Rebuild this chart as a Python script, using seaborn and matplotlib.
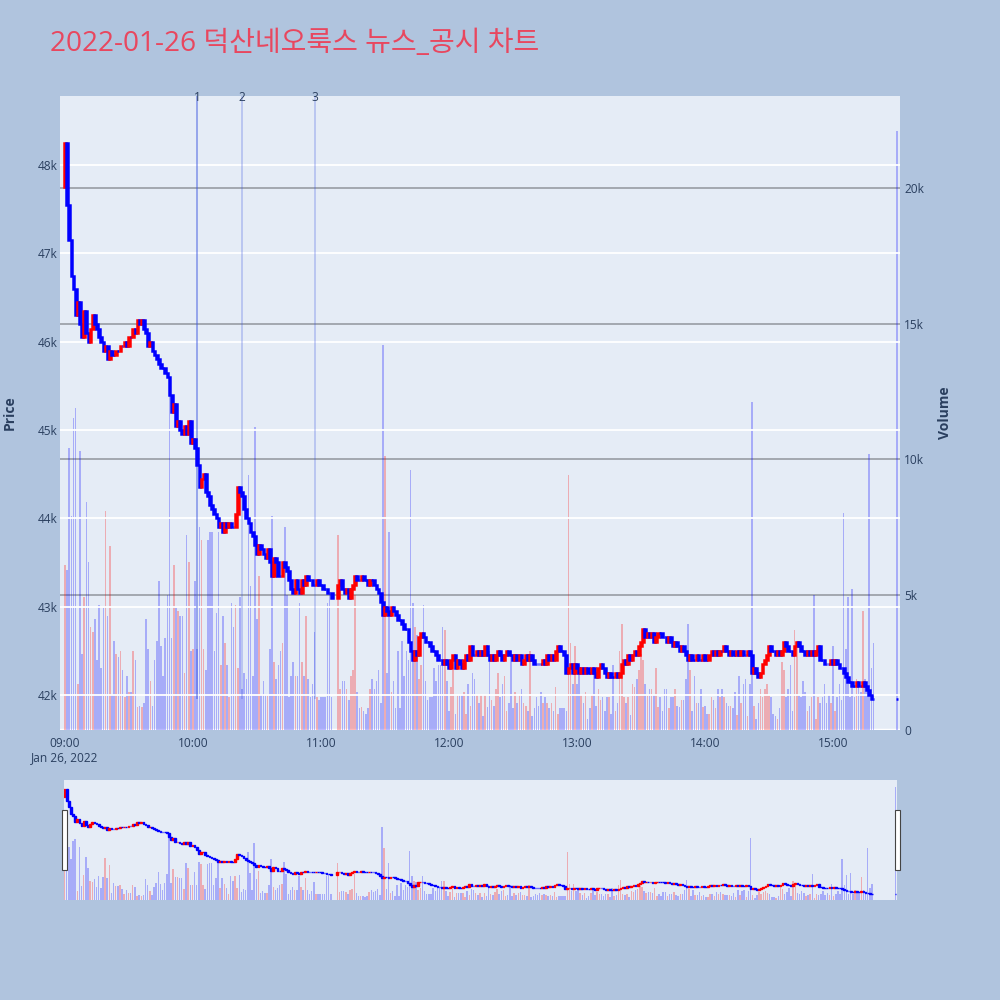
import numpy as np
import pandas as pd
import matplotlib
matplotlib.use("Agg")
import matplotlib.pyplot as plt
import matplotlib.patches as mpatches
import matplotlib.transforms as mtransforms
from matplotlib.colors import to_rgba
import seaborn as sns

# 1 - data (1-minute candles, 2022-01-26, 09:00 ~ 15:19, 11:06~11:07 halted)
first_open = 47750

close_prices = [
    48250, 47550, 47150, 46750, 46600, 46300, 46450, 46200, 46050, 46350,
    46100, 46000, 46150, 46300, 46200, 46150, 46050, 46000, 45900, 45950,
    45800, 45900, 45850, 45850, 45900, 45900, 45950, 45950, 46000, 45950,
    46050, 46050, 46150, 46100, 46250, 46200, 46250, 46150, 46100, 45950,
    46000, 45900, 45850, 45800, 45750, 45700, 45700, 45650, 45600, 45400,
    45200, 45300, 45050, 45100, 45000, 44950, 45050, 44950, 45100, 44850,
    44900, 44800, 44600, 44350, 44450, 44500, 44300, 44250, 44150, 44100,
    44050, 44000, 43900, 43950, 43850, 43950, 43900, 43950, 43900, 43900,
    44050, 44350, 44300, 44250, 44100, 44000, 43950, 43850, 43800, 43700,
    43600, 43700, 43650, 43600, 43550, 43650, 43500, 43350, 43550, 43500,
    43350, 43350, 43500, 43450, 43400, 43300, 43200, 43150, 43300, 43200,
    43150, 43300, 43250, 43350, 43300, 43300, 43250, 43250, 43300, 43250,
    43250, 43200, 43200, 43150, 43150, 43100, None, None, 43250, 43300,
    43200, 43150, 43200, 43100, 43200, 43250, 43350, 43300, 43300, 43350,
    43300, 43300, 43250, 43300, 43300, 43250, 43200, 43150, 43050, 42900,
    43000, 42950, 42900, 43000, 42950, 42900, 42850, 42850, 42800, 42750,
    42750, 42600, 42500, 42400, 42500, 42450, 42650, 42700, 42650, 42600,
    42600, 42550, 42500, 42500, 42450, 42400, 42400, 42350, 42400, 42350,
    42300, 42400, 42450, 42300, 42400, 42350, 42300, 42400, 42450, 42400,
    42550, 42450, 42450, 42500, 42450, 42500, 42450, 42550, 42450, 42400,
    42450, 42400, 42450, 42500, 42450, 42400, 42450, 42500, 42450, 42450,
    42400, 42450, 42400, 42450, 42350, 42400, 42450, 42400, 42450, 42400,
    42350, 42350, 42350, 42350, 42400, 42350, 42450, 42400, 42450, 42400,
    42500, 42550, 42500, 42500, 42450, 42250, 42300, 42350, 42250, 42350,
    42300, 42250, 42300, 42250, 42300, 42250, 42250, 42300, 42250, 42200,
    42300, 42350, 42300, 42250, 42200, 42250, 42200, 42200, 42250, 42200,
    42250, 42350, 42400, 42350, 42450, 42400, 42450, 42500, 42450, 42550,
    42600, 42750, 42650, 42700, 42650, 42700, 42600, 42650, 42700, 42700,
    42650, 42650, 42600, 42650, 42600, 42550, 42600, 42550, 42500, 42550,
    42500, 42450, 42400, 42450, 42400, 42400, 42450, 42400, 42400, 42450,
    42400, 42400, 42450, 42500, 42450, 42500, 42450, 42500, 42500, 42550,
    42500, 42450, 42500, 42450, 42450, 42500, 42450, 42500, 42450, 42450,
    42500, 42450, 42250, 42300, 42250, 42200, 42250, 42350, 42400, 42450,
    42550, 42500, 42500, 42450, 42500, 42450, 42500, 42600, 42550, 42500,
    42500, 42450, 42550, 42600, 42550, 42500, 42500, 42450, 42500, 42450,
    42500, 42450, 42500, 42550, 42400, 42400, 42350, 42350, 42350, 42400,
    42350, 42400, 42350, 42300, 42300, 42250, 42200, 42150, 42150, 42100,
    42100, 42150, 42100, 42100, 42150, 42100, 42050, 42000, 41950, 41950,
]

volumes = [
    6100, 5900, 10400, 7900, 11500, 11900, 1700, 10300, 2800, 4900,
    8400, 6200, 3800, 3600, 4100, 2600, 4600, 2300, 4500, 8100,
    4200, 6800, 1300, 3300, 2800, 2700, 2900, 2200, 1200, 2000,
    1400, 1400, 2900, 2600, 850, 900, 850, 1000, 4100, 3000,
    1800, 900, 2600, 3300, 5500, 3100, 2000, 3400, 5000, 12400,
    3400, 6100, 4500, 4400, 4200, 4200, 2100, 7200, 6200, 2900,
    3000, 5500, 3000, 7500, 7000, 3000, 2200, 7000, 7300, 7300,
    2900, 4300, 7300, 2400, 4200, 3200, 2400, 1200, 4700, 3800,
    4600, 2300, 4900, 1500, 2100, 1900, 9400, 5300, 2000, 11200,
    4100, 5700, 1300, 1800, 1300, 1300, 3000, 7900, 2500, 1900,
    2400, 2900, 3200, 7500, 5000, 1200, 2000, 2500, 2000, 2000,
    4700, 2500, 2000, 4200, 1900, 1200, 1700, 3600, 1200, 1100,
    1200, 1200, 1200, 4700, 5100, 1200, None, None, 7200, 1500,
    1800, 1800, 1500, 1100, 2000, 2200, 5000, 1400, 800, 850,
    700, 600, 800, 1500, 1900, 1500, 1800, 2200, 1000, 14200,
    10100, 2100, 7300, 1400, 1800, 800, 2900, 800, 3300, 2000,
    2900, 2600, 9600, 4700, 3800, 3500, 1900, 2400, 4600, 1800,
    1100, 1200, 1200, 2300, 1800, 2400, 2400, 3800, 3700, 1800,
    700, 1600, 2200, 600, 1300, 1300, 1300, 1400, 600, 1700,
    900, 2100, 1900, 1300, 1000, 1300, 500, 1300, 850, 2900,
    1100, 900, 1500, 2100, 1200, 1700, 2000, 700, 1000, 2900,
    800, 1400, 1000, 1300, 1500, 1000, 900, 700, 2900, 500,
    800, 1200, 900, 1400, 1000, 1200, 1000, 800, 1000, 700,
    1600, 600, 800, 800, 800, 700, 9400, 3200, 1700, 3100,
    1700, 2400, 1300, 1000, 1400, 400, 800, 1300, 2300, 900,
    1500, 1100, 1200, 700, 1200, 1200, 600, 2400, 700, 1000,
    2900, 3900, 1200, 1000, 1200, 550, 1700, 1600, 1900, 2200,
    2800, 2600, 1700, 1300, 1500, 1500, 1300, 2300, 850, 1200,
    700, 1500, 1500, 800, 1200, 1200, 1500, 900, 850, 1100,
    1100, 1900, 3900, 2200, 700, 2000, 1000, 1000, 1500, 850,
    900, 600, 600, 1200, 1100, 800, 1500, 1200, 1500, 1200,
    1000, 900, 900, 800, 1400, 550, 2000, 1000, 1700, 1900,
    500, 1700, 12100, 900, 400, 1000, 1500, 1200, 1500, 1700,
    1300, 1200, 600, 500, 400, 800, 2500, 2200, 1200, 1500,
    2400, 700, 3700, 3300, 1300, 1200, 1800, 1400, 700, 900,
    1200, 5000, 400, 1200, 1000, 1200, 1700, 1000, 1300, 1000,
    3100, 700, 1200, 1700, 1100, 8000, 3000, 4900, 1200, 5200,
    1200, 1900, 1600, 1400, 4400, 1900, 1500, 10200, 2300, 3200,
]

# 15:30 closing auction
auction_time = "15:30"
auction_price = 41950
auction_volume = 22100

# news / disclosure markers
news_times = ["10:02", "10:23", "10:57"]
news_labels = ["1", "2", "3"]

hour_ticks = ["09:00", "10:00", "11:00", "12:00", "13:00", "14:00", "15:00"]
price_ticks = [42000, 43000, 44000, 45000, 46000, 47000, 48000]
price_tick_labels = ["42k", "43k", "44k", "45k", "46k", "47k", "48k"]
volume_ticks = [0, 5000, 10000, 15000, 20000]
volume_tick_labels = ["0", "5k", "10k", "15k", "20k"]

title = "2022-01-26 덕산네오룩스 뉴스_공시 차트"


def to_minute(hhmm):
    h, m = map(int, hhmm.split(":"))
    return (h - 9) * 60 + m


df = pd.DataFrame({"minute": np.arange(len(close_prices)),
                   "close": pd.to_numeric(pd.Series(close_prices), errors="coerce"),
                   "volume": pd.to_numeric(pd.Series(volumes), errors="coerce")})
df = pd.concat([df, pd.DataFrame({"minute": [to_minute(auction_time)],
                                  "close": [auction_price],
                                  "volume": [auction_volume]})], ignore_index=True)
df = df.dropna().reset_index(drop=True)
df["open"] = df["close"].shift(1).fillna(first_open)
df["up"] = df["close"] > df["open"]

# 2 - style
sns.set_theme(style="white")
plt.rcParams["font.family"] = ["Open Sans", "Noto Sans CJK KR", "DejaVu Sans"]
txt_color = "#2a3f5f"
bg_color = "#b0c4de"
plot_bg = "#e5ecf6"
up_color = "#ff0000"
down_color = "#0000ff"

PRICE_LIM = (41602, 48784)
VOL_LIM = (0, 23400)
X_LIM = (-2.34, 391.4)

fig = plt.figure(figsize=(10, 10), dpi=100, facecolor=bg_color)


def draw_volume(axv, d, width, alpha):
    cols = [to_rgba(up_color if u else down_color, alpha) for u in d["up"]]
    axv.bar(d["minute"], d["volume"], width=width, color=cols, linewidth=0, zorder=2)


def draw_candles(axp, d, width, lw):
    bottom = np.minimum(d["open"], d["close"])
    height = np.abs(d["close"] - d["open"])
    cols = [up_color if u else down_color for u in d["up"]]
    axp.bar(d["minute"], height, bottom=bottom, width=width, color=cols,
            edgecolor=cols, linewidth=lw, zorder=3)


# 3 - main chart (price + volume)
ax = fig.add_axes([0.06, 0.27, 0.84, 0.634])
axv = ax.twinx()
axv.set_zorder(1)
ax.set_zorder(2)
axv.patch.set_visible(True)
axv.set_facecolor(plot_bg)
ax.patch.set_visible(False)

draw_volume(axv, df, 0.75, 0.27)
axv.set_ylim(*VOL_LIM)
axv.set_yticks(volume_ticks)
axv.set_yticklabels(volume_tick_labels)
axv.grid(axis="y", color="#a3a8b0", linewidth=1.4)
axv.axhline(0, color="white", linewidth=2.5, zorder=1)
axv.set_axisbelow(True)
axv.set_ylabel("Volume", fontsize=10, fontweight="bold", color=txt_color)
axv.yaxis.set_label_coords(1.0452, 0.5)

for a in (ax, axv):
    for s in a.spines.values():
        s.set_visible(False)
    a.tick_params(length=0, labelsize=8.6, colors=txt_color)
axv.tick_params(axis="y", pad=3)

ax.set_ylim(*PRICE_LIM)
ax.set_xlim(*X_LIM)
ax.set_yticks(price_ticks)
ax.set_yticklabels(price_tick_labels)
ax.tick_params(axis="y", pad=2)
ax.tick_params(axis="x", pad=5)
ax.grid(axis="y", color="white", linewidth=1.3, zorder=0)
ax.set_ylabel("Price", fontsize=10, fontweight="bold", color=txt_color)
ax.yaxis.set_label_coords(-0.0512, 0.5)
ax.set_xticks([to_minute(t) for t in hour_ticks])
ax.set_xticklabels(hour_ticks)
ax.text(to_minute(hour_ticks[0]), -0.044, "Jan 26, 2022", fontsize=8.6,
        color=txt_color, ha="center", va="center",
        transform=mtransforms.blended_transform_factory(ax.transData, ax.transAxes))

# news markers
low_price = df["close"].min()
news_alpha = [0.55, 0.3, 0.3]
for t, lab, al in zip(news_times, news_labels, news_alpha):
    xm = to_minute(t)
    ax.vlines(xm, low_price, PRICE_LIM[1], color=to_rgba("#3a55e0", al),
              linewidth=1.2, zorder=1)
    ax.text(xm, 0.998, lab, fontsize=8.6, color=txt_color, ha="center",
            va="center",
            transform=mtransforms.blended_transform_factory(ax.transData, ax.transAxes))

draw_candles(ax, df, 0.8, 1.8)

# 4 - range slider
axs = fig.add_axes([0.0635, 0.10, 0.833, 0.12])
axs2 = axs.twinx()
axs2.set_zorder(1)
axs.set_zorder(2)
axs2.patch.set_visible(True)
axs2.set_facecolor(plot_bg)
axs.patch.set_visible(False)
draw_volume(axs2, df, 0.7, 0.27)
draw_candles(axs, df, 0.8, 1.0)
axs.set_xlim(-0.5, 390.5)
axs.set_ylim(*PRICE_LIM)
axs2.set_ylim(*VOL_LIM)
for a in (axs, axs2):
    a.set_xticks([])
    a.set_yticks([])
    for s in a.spines.values():
        s.set_visible(False)

for hx in (0.062, 0.895):
    fig.patches.append(mpatches.Rectangle((hx, 0.13), 0.0045, 0.06,
                                          transform=fig.transFigure,
                                          facecolor="white", edgecolor="#444444",
                                          linewidth=0.8, zorder=5))

# 5 - title
fig.text(0.05, 0.949, title, fontsize=20.2, color="#e8475f",
         ha="left", va="baseline")

plt.savefig("out.png", dpi=100, facecolor=bg_color)
